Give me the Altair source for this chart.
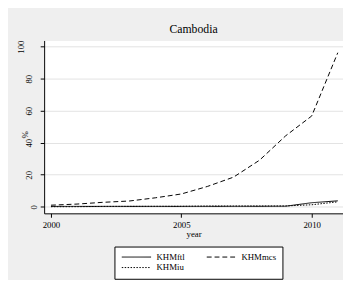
import altair as alt
import pandas as pd

years = list(range(2000, 2012))
khm_ftl = [0.25, 0.26, 0.26, 0.27, 0.27, 0.27, 0.28, 0.30, 0.32, 0.37, 2.54, 3.72]
khm_mcs = [1.0, 1.7, 2.8, 3.6, 5.6, 8.0, 12.7, 18.5, 29.1, 44.3, 56.7, 96.2]
khm_iu = [0.05, 0.08, 0.23, 0.26, 0.30, 0.32, 0.47, 0.49, 0.51, 0.53, 1.26, 3.10]
series = ["KHMftl", "KHMmcs", "KHMiu"]
dashes = [[1, 0], [5, 3], [1.5, 1.5]]
y_ticks = [0, 20, 40, 60, 80, 100]
x_ticks = [2000, 2005, 2010]

rows = []
for name, vals in zip(series, [khm_ftl, khm_mcs, khm_iu]):
    for yr, v in zip(years, vals):
        rows.append({"year": yr, "value": v, "series": name})
df = pd.DataFrame(rows)

serif = "Liberation Serif"

chart = alt.Chart(df).mark_line(strokeWidth=1, color="black", clip=True).encode(
    x=alt.X("year:Q",
            scale=alt.Scale(domain=[1999.738, 2011.2], nice=False, zero=False),
            axis=alt.Axis(values=x_ticks, format="d", title="year", grid=False,
                          domainColor="black", domainWidth=1, tickColor="black",
                          tickSize=4, labelPadding=7, labelBaseline="middle",
                          labelFont=serif, labelFontSize=9, labelColor="black",
                          titleFont=serif, titleFontSize=9, titleFontWeight="normal",
                          titleColor="black", titleBaseline="middle", titleY=21)),
    y=alt.Y("value:Q",
            scale=alt.Scale(domain=[-4.09, 103.84], nice=False, zero=False),
            axis=alt.Axis(values=y_ticks, title="%", grid=True, gridColor="#e2e2e2",
                          gridWidth=1, domainColor="black", domainWidth=1,
                          tickColor="black", tickSize=4, labelAngle=270,
                          labelAlign="center", labelBaseline="middle",
                          labelPadding={"condition": [
                              {"test": "datum.value >= 100", "value": 20},
                              {"test": "datum.value < 10", "value": 7}],
                              "value": 12},
                          labelFont=serif, labelFontSize=9, labelColor="black",
                          titleFont=serif, titleFontSize=9, titleFontWeight="normal",
                          titleColor="black", titleAngle=270, titleAlign="center",
                          titleBaseline="middle", titleX=-20, titleY=96)),
    strokeDash=alt.StrokeDash(
        "series:N",
        scale=alt.Scale(domain=series, range=dashes),
        legend=alt.Legend(title=None, orient="none", legendX=72, legendY=211,
                          direction="horizontal", columns=2, padding=6,
                          rowPadding=1, columnPadding=20, fillColor="white",
                          strokeColor="black", cornerRadius=0,
                          symbolType="M-1,0H9", symbolSize=36,
                          symbolStrokeColor="black", symbolStrokeWidth=1,
                          labelFont=serif, labelFontSize=9, labelColor="black",
                          labelOffset=28, labelBaseline="middle")),
).properties(
    width=306,
    height=177,
    title=alt.TitleParams("Cambodia", font=serif, fontSize=12, fontWeight="normal",
                          color="black", anchor="middle", baseline="alphabetic",
                          offset=5, dy=10),
    autosize=alt.AutoSizeParams(type="none"),
    padding={"left": 37, "top": 30, "right": 0, "bottom": 65},
    background="#efefef",
).configure_view(fill="white", strokeOpacity=0)

chart.save("out.html", embed_options={"renderer": "svg", "actions": False})
